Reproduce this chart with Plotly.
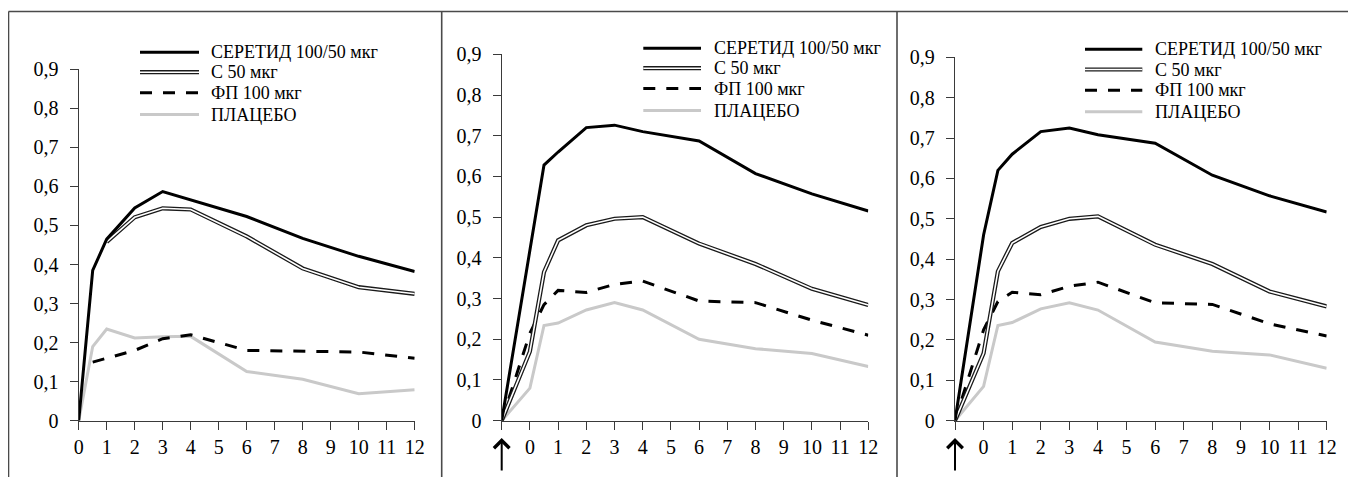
import plotly.graph_objects as go

# page size and default HTML body margin (8 px) of the written page
PAGE_W, PAGE_H, BODY = 1356, 477, 8
W, H = PAGE_W - BODY, PAGE_H - BODY

# ---------------- data ----------------
series_names = ["СЕРЕТИД 100/50 мкг", "С 50 мкг", "ФП 100 мкг", "ПЛАЦЕБО"]

# Panel 1
t1 = [0, 0.5, 1, 2, 3, 4, 6, 8, 10, 12]
p1_seretide = [0, 0.385, 0.465, 0.545, 0.587, 0.566, 0.523, 0.467, 0.421, 0.382]
p1_s50 = [None, None, 0.458, 0.521, 0.544, 0.541, 0.472, 0.39, 0.342, 0.325]
p1_fp = [None, 0.15, 0.16, 0.18, 0.21, 0.22, 0.18, 0.178, 0.176, 0.16]
p1_placebo = [0, 0.19, 0.235, 0.212, 0.215, 0.216, 0.126, 0.106, 0.069, 0.079]

# Panels 2 and 3 (origin point = dose moment, marked by arrow)
t23 = [-1, 0, 0.5, 1, 2, 3, 4, 6, 8, 10, 12]
p2_seretide = [0, 0.42, 0.628, 0.66, 0.72, 0.726, 0.71, 0.687, 0.607, 0.557, 0.515]
p2_s50 = [0, 0.17, 0.365, 0.443, 0.48, 0.496, 0.5, 0.435, 0.385, 0.324, 0.284]
p2_fp = [0, 0.215, 0.285, 0.32, 0.315, 0.335, 0.343, 0.294, 0.29, 0.247, 0.21]
p2_placebo = [0, 0.08, 0.234, 0.24, 0.272, 0.29, 0.272, 0.2, 0.177, 0.165, 0.133]

p3_seretide = [0, 0.46, 0.62, 0.66, 0.716, 0.725, 0.708, 0.687, 0.608, 0.557, 0.517]
p3_s50 = [0, 0.167, 0.37, 0.44, 0.48, 0.5, 0.506, 0.436, 0.388, 0.32, 0.283]
p3_fp = [0, 0.225, 0.295, 0.318, 0.312, 0.333, 0.343, 0.292, 0.288, 0.24, 0.21]
p3_placebo = [0, 0.085, 0.236, 0.243, 0.277, 0.292, 0.274, 0.195, 0.172, 0.163, 0.13]

y_tickvals = [0, 0.1, 0.2, 0.3, 0.4, 0.5, 0.6, 0.7, 0.8, 0.9]
y_ticktext = ["0", "0,1", "0,2", "0,3", "0,4", "0,5", "0,6", "0,7", "0,8", "0,9"]
x1_tickvals = list(range(0, 13))
x1_ticktext = [str(v) for v in x1_tickvals]
x23_tickvals = list(range(-1, 13))
x23_ticktext = [""] + [str(v) for v in range(0, 13)]

# ---------------- styling ----------------
FONT = "Liberation Serif, Times New Roman, serif"
BLACK = "#000000"
AXIS = "#3a3a3a"
GRAY = "#c9c9c9"
DASH = "12px,11px"
TICK_SIZE = 20


def px_x(x):
    """page pixel x -> paper fraction"""
    return (x - BODY) / W


def px_y(y):
    """page pixel y (from top) -> paper fraction"""
    return (PAGE_H - y) / H


panels = [
    dict(xa="x", ya="y", t=t1, data=[p1_seretide, p1_s50, p1_fp, p1_placebo],
         xdom=(78.7, 414.7), ytop=69.3, xr=[0, 12], tv=x1_tickvals, tt=x1_ticktext,
         leg=(140, 199, 209, [52.3, 72.2, 92.8, 114.5]), arrow=False),
    dict(xa="x2", ya="y2", t=t23, data=[p2_seretide, p2_s50, p2_fp, p2_placebo],
         xdom=(501.7, 868.3), ytop=54.3, xr=[-1, 12], tv=x23_tickvals, tt=x23_ticktext,
         leg=(643.3, 701, 711.7, [48.3, 68.2, 88.6, 110.5]), arrow=True),
    dict(xa="x3", ya="y3", t=t23, data=[p3_seretide, p3_s50, p3_fp, p3_placebo],
         xdom=(955, 1326.7), ytop=57.3, xr=[-1, 12], tv=x23_tickvals, tt=x23_ticktext,
         leg=(1085, 1142.3, 1153.3, [49.3, 69.5, 90.3, 111.8]), arrow=True),
]

Y0 = 420.7

fig = go.Figure()
shapes = []
annotations = []
layout_axes = {}

for i, p in enumerate(panels):
    xa, ya = p["xa"], p["ya"]
    ser, s50, fp, plc = p["data"]
    t = p["t"]
    common = dict(x=t, xaxis=xa, yaxis=ya, mode="lines", showlegend=False,
                  hoverinfo="skip", cliponaxis=False, connectgaps=False)
    fig.add_trace(go.Scatter(y=plc, line=dict(color=GRAY, width=3), **common))
    fig.add_trace(go.Scatter(y=fp, line=dict(color=BLACK, width=3, dash=DASH), **common))
    fig.add_trace(go.Scatter(y=s50, line=dict(color="#1a1a1a", width=4.2), **common))
    fig.add_trace(go.Scatter(y=s50, line=dict(color="#ffffff", width=1.6), **common))
    fig.add_trace(go.Scatter(y=ser, line=dict(color=BLACK, width=3), **common))

    sfx = "" if i == 0 else str(i + 1)
    layout_axes["xaxis" + sfx] = dict(
        domain=[px_x(p["xdom"][0]), px_x(p["xdom"][1])], anchor=ya,
        range=p["xr"], tickvals=p["tv"], ticktext=p["tt"], automargin=False,
        showgrid=False, zeroline=False, showline=True, linecolor=AXIS, linewidth=1.3,
        ticks="outside", ticklen=8, tickwidth=1.3, tickcolor=AXIS,
        tickfont=dict(family=FONT, size=TICK_SIZE, color=BLACK), ticklabelstandoff=0,
        fixedrange=True,
    )
    layout_axes["yaxis" + sfx] = dict(
        domain=[px_y(Y0), px_y(p["ytop"])], anchor=xa,
        range=[0, 0.9], tickvals=y_tickvals, ticktext=y_ticktext, automargin=False,
        showgrid=False, zeroline=False, showline=True, linecolor=AXIS, linewidth=1.3,
        ticks="outside", ticklen=8, tickwidth=1.3, tickcolor=AXIS,
        tickfont=dict(family=FONT, size=TICK_SIZE, color=BLACK), ticklabelstandoff=7,
        fixedrange=True,
    )

    # manual legend (to show the double line style)
    lx0, lx1, tx, rows = p["leg"]
    styles = [
        [dict(color=BLACK, width=3)],
        [dict(color="#1a1a1a", width=4.2), dict(color="#ffffff", width=1.6)],
        [dict(color=BLACK, width=3, dash=DASH)],
        [dict(color=GRAY, width=3)],
    ]
    for name, st, ry in zip(series_names, styles, rows):
        for ln in st:
            shapes.append(dict(type="line", xref="paper", yref="paper",
                               x0=px_x(lx0), x1=px_x(lx1), y0=px_y(ry), y1=px_y(ry),
                               line=ln, layer="above"))
        annotations.append(dict(text=name, xref="paper", yref="paper",
                                x=px_x(tx), y=px_y(ry), xanchor="left", yanchor="middle",
                                showarrow=False, font=dict(family=FONT, size=18, color=BLACK)))

    if p["arrow"]:
        annotations.append(dict(text="", xref=xa, yref="paper", x=-1, y=px_y(438.0),
                                showarrow=True, ax=0, ay=34, axref="pixel", ayref="pixel",
                                arrowhead=4, arrowsize=1.5, arrowwidth=2, arrowcolor=BLACK,
                                standoff=0, startstandoff=0))

# panel frame lines
FRAME = "#4a4a4a"
shapes.append(dict(type="line", xref="paper", yref="paper", x0=px_x(8.5), x1=1,
                   y0=px_y(11.5), y1=px_y(11.5), line=dict(color=FRAME, width=1.6)))
for vx in (8.5, 441.7, 897.0):
    shapes.append(dict(type="line", xref="paper", yref="paper", x0=px_x(vx), x1=px_x(vx),
                       y0=px_y(11.5), y1=0, line=dict(color=FRAME, width=1.6)))

fig.update_layout(
    template="none",
    width=W, height=H,
    margin=dict(l=0, r=0, t=0, b=0, pad=0, autoexpand=False),
    paper_bgcolor="white", plot_bgcolor="white",
    font=dict(family=FONT, size=18, color=BLACK),
    showlegend=False,
    shapes=shapes, annotations=annotations,
    **layout_axes,
)

fig.write_html("out.html", config={"displayModeBar": False})
